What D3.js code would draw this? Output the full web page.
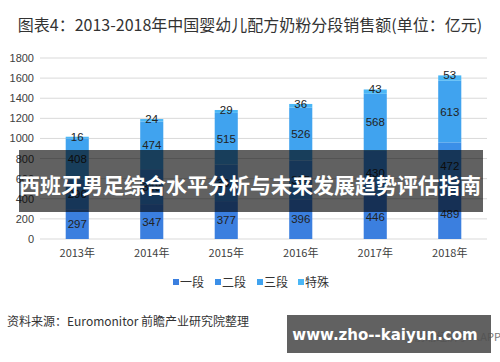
<!DOCTYPE html>
<html>
<head>
<meta charset="utf-8">
<script src="https://cdn.jsdelivr.net/npm/d3@7"></script>
<style>
  body { margin: 0; background: #fff; }
  text { font-family: "Noto Sans CJK SC", "Noto Sans", sans-serif; }
</style>
</head>
<body>
<div id="chart"></div>
<script>
// Data
const years = ["2013年", "2014年", "2015年", "2016年", "2017年", "2018年"];
const seriesNames = ["一段", "二段", "三段", "特殊"];
const stage1 = [297, 347, 377, 396, 446, 489];
const stage2 = [296, 348, 362, 385, 430, 472];
const stage3 = [408, 474, 515, 526, 568, 613];
const special = [16, 24, 29, 36, 43, 53];
const yTicks = [0, 200, 400, 600, 800, 1000, 1200, 1400, 1600, 1800];

const colours = ["#3b7fdf", "#3b8fe8", "#40a3ef", "#4bb7f6"];

const W = 500, H = 362;
const svg = d3.select("#chart").append("svg")
    .attr("width", W)
    .attr("height", H);

// Build rows for the stack
const rows = years.map((yr, i) => ({
    year: yr,
    "一段": stage1[i],
    "二段": stage2[i],
    "三段": stage3[i],
    "特殊": special[i]
}));
const stacked = d3.stack().keys(seriesNames)(rows);

const x = d3.scaleBand()
    .domain(years)
    .range([40, 487])
    .paddingInner(0.69)
    .paddingOuter(0.345);
const y = d3.scaleLinear()
    .domain([0, 1800])
    .range([239, 58]);

// Title
svg.append("text")
    .attr("x", 250)
    .attr("y", 31)
    .attr("text-anchor", "middle")
    .attr("font-size", 16)
    .attr("fill", "#333")
    .text("图表4：2013-2018年中国婴幼儿配方奶粉分段销售额(单位：亿元)");

// Gridlines
svg.append("g")
    .selectAll("line")
    .data(yTicks)
    .join("line")
        .attr("x1", 40)
        .attr("x2", 487)
        .attr("y1", d => y(d))
        .attr("y2", d => y(d))
        .attr("stroke", "#d9d9d9")
        .attr("stroke-width", 1);

// Y axis labels
svg.append("g")
    .attr("transform", "translate(34,0)")
    .call(d3.axisLeft(y).tickValues(yTicks).tickFormat(d3.format("d")).tickSize(0).tickPadding(0))
    .call(g => g.select(".domain").remove())
    .call(g => g.selectAll("text")
        .attr("font-size", 11)
        .attr("fill", "#404040")
        .style("font-family", "'Liberation Sans', 'Noto Sans', sans-serif"));

// X axis labels
svg.append("g")
    .attr("transform", "translate(0,247)")
    .call(d3.axisBottom(x).tickSize(0).tickPadding(0))
    .call(g => g.select(".domain").remove())
    .call(g => g.selectAll("text")
        .attr("font-size", 11)
        .attr("fill", "#404040")
        .attr("dy", "0.9em"));

// Bars
const layers = svg.append("g")
    .selectAll("g")
    .data(stacked)
    .join("g")
        .attr("fill", (d, i) => colours[i]);

layers.selectAll("rect")
    .data(d => d)
    .join("rect")
        .attr("x", d => x(d.data.year))
        .attr("width", x.bandwidth())
        .attr("y", d => y(d[1]))
        .attr("height", d => y(d[0]) - y(d[1]));

// Value labels
layers.selectAll("text")
    .data((d) => d.map(v => ({ v, key: d.key })))
    .join("text")
        .attr("x", d => x(d.v.data.year) + x.bandwidth() / 2)
        .attr("y", d => d.key === "特殊"
            ? y(d.v[1]) + 4
            : (y(d.v[0]) + y(d.v[1])) / 2 + 4)
        .attr("text-anchor", "middle")
        .attr("font-size", 11.5)
        .attr("fill", "#222")
        .style("font-family", "'Liberation Sans', 'Noto Sans', sans-serif")
        .text(d => d.v.data[d.key]);

// Legend
const legendX = [173, 215, 257, 298];
const legend = svg.append("g")
    .selectAll("g")
    .data(seriesNames)
    .join("g")
        .attr("transform", (d, i) => `translate(${legendX[i]},282)`);
legend.append("rect")
    .attr("x", 0)
    .attr("y", -3)
    .attr("width", 6)
    .attr("height", 6)
    .attr("fill", (d, i) => colours[i]);
legend.append("text")
    .attr("x", 7)
    .attr("y", 4.5)
    .attr("font-size", 12)
    .attr("fill", "#333")
    .text(d => d);

// Source line
svg.append("text")
    .attr("x", 7)
    .attr("y", 326)
    .attr("font-size", 12)
    .attr("fill", "#333")
    .text("资料来源：Euromonitor 前瞻产业研究院整理");

svg.append("text")
    .attr("x", 501)
    .attr("y", 341)
    .attr("text-anchor", "end")
    .attr("font-size", 11)
    .attr("fill", "#777")
    .text("@前瞻经济学人APP");

// Dark banner over the chart
svg.append("rect")
    .attr("x", 19)
    .attr("y", 150)
    .attr("width", 464)
    .attr("height", 62)
    .attr("fill", "rgba(0,0,0,0.62)");
svg.append("text")
    .attr("x", 250)
    .attr("y", 193)
    .attr("text-anchor", "middle")
    .attr("font-size", 21)
    .attr("font-weight", "bold")
    .attr("fill", "#fff")
    .text("西班牙男足综合水平分析与未来发展趋势评估指南");

// Site badge
svg.append("rect")
    .attr("x", 287)
    .attr("y", 315)
    .attr("width", 204)
    .attr("height", 38)
    .attr("fill", "rgba(80,80,80,0.9)");
svg.append("text")
    .attr("x", 385)
    .attr("y", 340)
    .attr("text-anchor", "middle")
    .attr("font-size", 15)
    .attr("font-weight", "bold")
    .attr("fill", "#fff")
    .style("font-family", "'DejaVu Sans', 'Noto Sans', sans-serif")
    .text("www.zho--kaiyun.com");
</script>
</body>
</html>
